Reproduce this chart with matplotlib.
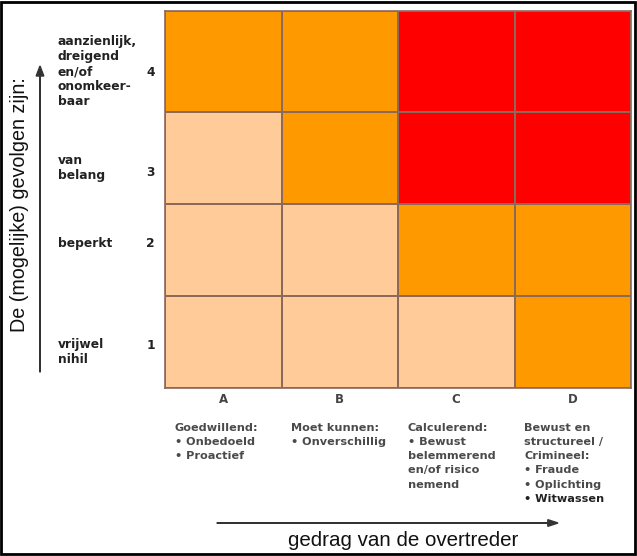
import matplotlib.pyplot as plt
from matplotlib.colors import ListedColormap
from matplotlib.patches import Rectangle, FancyArrow
import numpy as np

plt.rcParams['font.family'] = ['Liberation Sans', 'DejaVu Sans']

columns = ['A', 'B', 'C', 'D']
col_texts = [
    ['Goedwillend:', '• Onbedoeld', '• Proactief'],
    ['Moet kunnen:', '• Onverschillig'],
    ['Calculerend:', '• Bewust', 'belemmerend', 'en/of risico', 'nemend'],
    ['Bewust en', 'structureel /', 'Crimineel:', '• Fraude', '• Oplichting',
     '• Witwassen'],
]
row_numbers = ['1', '2', '3', '4']
row_texts = ['vrijwel\nnihil', 'beperkt', 'van\nbelang',
             'aanzienlijk,\ndreigend\nen/of\nonomkeer-\nbaar']
# risk level per cell: 0 = low, 1 = medium, 2 = high (rows 1..4 bottom to top)
risk = [
    [0, 0, 0, 1],
    [0, 0, 1, 1],
    [0, 1, 2, 2],
    [1, 1, 2, 2],
]
risk_colors = ['#FFCC99', '#FF9900', '#FF0000']
row_edges = [0, 1, 2, 3, 4.1]

fig = plt.figure(figsize=(6.37, 5.56), dpi=100)
ax = fig.add_axes([165 / 637, 1 - 388 / 556, 466 / 637, 377 / 556])

cmap = ListedColormap(risk_colors)
ax.pcolormesh(np.arange(5), row_edges, np.array(risk), cmap=cmap,
              vmin=-0.5, vmax=2.5, edgecolors='#8C6A5A', linewidth=1.2)
ax.set_xlim(0, 4)
ax.set_ylim(0, 4.1)
ax.set_xticks([])
ax.set_yticks([])
for s in ax.spines.values():
    s.set_color('#8C6A5A')
    s.set_linewidth(1.2)

# row labels
text_y = [0.39, 1.57, 2.39, 3.44]
num_y = [0.46, 1.57, 2.34, 3.43]
for i, (txt, num) in enumerate(zip(row_texts, row_numbers)):
    ax.text(-0.92, text_y[i], txt, ha='left', va='center', fontsize=8.8,
            fontweight='bold', color='#222222', linespacing=1.2,
            family='DejaVu Sans')
    ax.text(-0.085, num_y[i], num, ha='right', va='center', fontsize=8.8,
            fontweight='bold', color='#222222', family='DejaVu Sans')

# column labels and descriptions (one text per line for even spacing)
line_step = 0.155
for j, (c, lines) in enumerate(zip(columns, col_texts)):
    ax.text(j + 0.5, -0.13, c, ha='center', va='center', fontsize=8.5,
            fontweight='bold', color='#444444', family='DejaVu Sans')
    for k, line in enumerate(lines):
        dark = (line == '• Witwassen')
        ax.text(j + 0.085, -0.43 - k * line_step, line, ha='left',
                va='center', fontsize=8.1, fontweight='bold',
                color='#222222' if dark else '#4a4a4a', family='DejaVu Sans')

# axis arrows and titles
fig.patches.append(FancyArrow(
    40 / 637, 1 - 372 / 556, 0, (372 - 66) / 556, width=0.0008,
    head_width=0.012, head_length=0.018, length_includes_head=True,
    color='#333333', transform=fig.transFigure, figure=fig))
fig.text(20 / 637, 1 - 205 / 556, 'De (mogelijke) gevolgen zijn:', rotation=90,
         ha='center', va='center', fontsize=14.2, color='#111111')

fig.patches.append(FancyArrow(
    217 / 637, 1 - 523 / 556, (558 - 217) / 637, 0, width=0.0009,
    head_width=0.012, head_length=0.016, length_includes_head=True,
    color='#333333', transform=fig.transFigure, figure=fig))
fig.text(403 / 637, 1 - 541 / 556, 'gedrag van de overtreder',
         ha='center', va='center', fontsize=14.8, color='#111111')

# outer frame
fig.patches.append(Rectangle((0.002, 0.003), 0.995, 0.994, fill=False,
                             edgecolor='black', linewidth=2,
                             transform=fig.transFigure, figure=fig))

fig.savefig('out.png', dpi=100)
